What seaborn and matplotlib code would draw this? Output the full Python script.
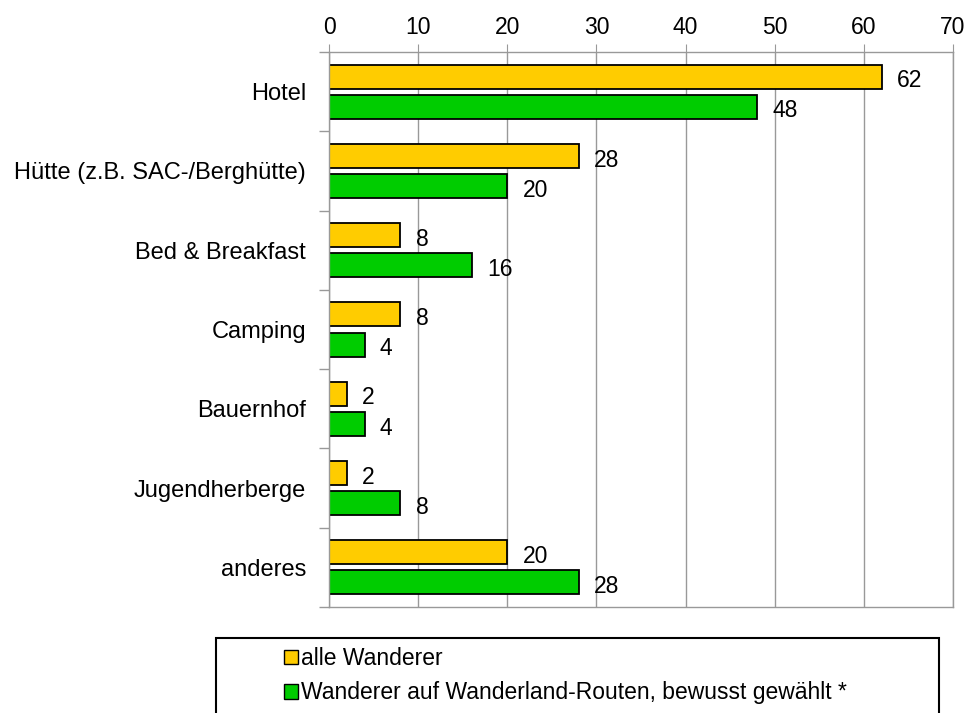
import pandas as pd
import numpy as np
import matplotlib.pyplot as plt
import seaborn as sns
from matplotlib.patches import Rectangle

# Unterkunftsart, Anteile in %
categories = ["Hotel", "Hütte (z.B. SAC-/Berghütte)", "Bed & Breakfast", "Camping",
              "Bauernhof", "Jugendherberge", "anderes"]
alle = [62, 28, 8, 8, 2, 2, 20]
wanderland = [48, 20, 16, 4, 4, 8, 28]
series = ["alle Wanderer", "Wanderer auf Wanderland-Routen, bewusst gewählt *"]

df = pd.DataFrame({
    "Kategorie": categories * 2,
    "Wert": alle + wanderland,
    "Gruppe": [series[0]] * len(categories) + [series[1]] * len(categories),
})

sns.set_style("white")
plt.rcParams['font.family'] = ['Liberation Sans', 'DejaVu Sans']
plt.rcParams['text.color'] = 'black'
fs = 16.5

fig = plt.figure(figsize=(9.69, 7.13), dpi=100)
ax = fig.add_axes([329 / 969, 1 - 607 / 713, (953 - 329) / 969, (607 - 52) / 713])

palette = {series[0]: "#FFCC00", series[1]: "#00CC00"}
sns.barplot(data=df, y="Kategorie", x="Wert", hue="Gruppe", order=categories,
            hue_order=series, palette=palette, orient="h", width=0.76, gap=0.2,
            edgecolor="black", linewidth=1.3, saturation=1, legend=False, ax=ax)

for cont in ax.containers:
    labels = ax.bar_label(cont, padding=11, fontsize=fs, color="black")
    for t in labels:
        t.xyann = (11, -3)

ax.set_xlim(0, 70)
ax.set_ylim(len(categories) - 0.5, -0.5)
ax.set_xticks(np.arange(0, 71, 10))
ax.xaxis.tick_top()
ax.tick_params(axis="x", which="major", top=True, bottom=False, length=6,
               color="#999999", labelsize=fs, pad=3, labelcolor="black")
ax.set_yticks(np.arange(len(categories)))
ax.set_yticklabels(categories)
ax.set_yticks(np.arange(len(categories) + 1) - 0.5, minor=True)
ax.tick_params(axis="y", which="major", left=False, labelsize=17, pad=13, labelcolor="black")
ax.tick_params(axis="y", which="minor", left=True, length=7, color="#999999", width=1)
ax.set_xlabel("")
ax.set_ylabel("")

ax.grid(axis="x", color="#999999", linewidth=1)
ax.set_axisbelow(True)
for s in ax.spines.values():
    s.set_color("#999999")
    s.set_linewidth(1)

# Legendenrahmen (unten abgeschnitten)
fig.patches.append(Rectangle((216 / 969, -0.05), (939 - 216) / 969, 0.05 + 1 - 638 / 713,
                             transform=fig.transFigure, fill=False, edgecolor="black",
                             linewidth=1.5, clip_on=False))
handles = [Rectangle((0, 0), 1, 1, facecolor=palette[s], edgecolor="black", linewidth=1)
           for s in series]
fig.legend(handles, series, loc="upper left", bbox_to_anchor=(284 / 969, 1 - 647 / 713),
           frameon=False, fontsize=fs, handlelength=0.6, handleheight=0.6,
           handletextpad=0.15, labelspacing=0.5, borderpad=0, borderaxespad=0)

fig.savefig("out.png", dpi=100)
